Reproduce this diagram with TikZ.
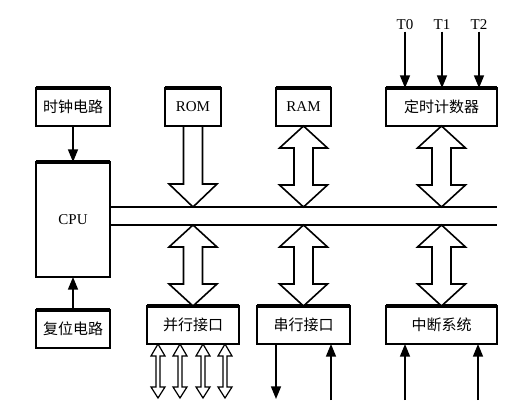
\documentclass[tikz,border=0pt]{standalone}
\usepackage{fontspec}
\setmainfont{Liberation Serif}
\newfontfamily\cjk{Noto Sans CJK SC}
\usetikzlibrary{arrows.meta,calc}
\begin{document}
\begin{tikzpicture}[x=0.75pt,y=-0.75pt,
  font=\fontsize{11.25}{13}\selectfont,
  box/.style={draw,line width=1.2pt,inner sep=0pt,outer sep=0pt,minimum height=28.5pt},
  topedge/.style={line width=2.4pt},
  arr/.style={line width=1.2pt,-{Triangle[width=7.5pt,length=9.5pt]}},
  hollow/.style={draw,fill=white,line width=1.2pt,line join=miter},
  hollowsm/.style={draw,fill=white,line width=0.9pt,line join=miter},
  busline/.style={line width=1.7pt},
  tlabel/.style={inner sep=1pt}]
\useasboundingbox (0,0) rectangle (528,414);
% boxes
\node[box,minimum width=55.5pt] (clk) at (73,107) {\cjk 时钟电路};
\node[box,minimum width=42pt] (rom) at (193,107) {ROM};
\node[box,minimum width=41.25pt] (ram) at (303.5,107) {RAM};
\node[box,minimum width=83.25pt] (timer) at (441.5,107) {\cjk 定时计数器};
\node[box,minimum width=55.5pt,minimum height=86.25pt] (cpu) at (73,219.5) {CPU};
\node[box,minimum width=55.5pt] (reset) at (73,329) {\cjk 复位电路};
\node[box,minimum width=69pt] (par) at (193,325) {\cjk 并行接口};
\node[box,minimum width=69.75pt] (ser) at (303.5,325) {\cjk 串行接口};
\node[box,minimum width=83.25pt] (int) at (441.5,325) {\cjk 中断系统};
\foreach \n in {clk,rom,ram,timer,cpu,reset,par,ser,int}
  \draw[topedge] (\n.north west) -- (\n.north east);
% bus
\coordinate (b1e) at (497,207);
\coordinate (b2e) at (497,225);
\draw[busline] (cpu.east |- b1e) -- (b1e);
\draw[busline,line width=2pt] (cpu.east |- b2e) -- (b2e);
% clock / reset arrows
\draw[arr] (clk.south) -- (cpu.north);
\draw[arr] (reset.north) -- (cpu.south);
% T inputs
\node[tlabel] (t0) at (405,25) {T0};
\node[tlabel] (t1) at (442,25) {T1};
\node[tlabel] (t2) at (479,25) {T2};
\foreach \t in {t0,t1,t2}
  \draw[arr] (\t.south) -- (\t.south |- timer.north);
% hollow arrows
\newcommand\dblarrow[2]{%
  \path[hollow] (#1) -- ++(24,22) -- ++(-14.5,0) -- ($(#2)+(9.5,-22)$) -- ++(14.5,0)
    -- (#2) -- ++(-24,-22) -- ++(14.5,0) -- ($(#1)+(-9.5,22)$) -- ++(-14.5,0) -- cycle;}
\newcommand\smalldbl[2]{%
  \path[hollowsm] (#1) -- ++(7,12) -- ++(-5,0) -- ($(#2)+(2,-11)$) -- ++(5,0)
    -- (#2) -- ++(-7,-11) -- ++(5,0) -- ($(#1)+(-2,12)$) -- ++(-5,0) -- cycle;}
% ROM: one-way down
\path[hollow] ($(rom.south)+(-9.5,0)$) -- ($(rom.south |- b1e)+(-9.5,-23)$) -- ++(-14.5,0)
  -- (rom.south |- b1e) -- ++(24,-23) -- ++(-14.5,0) -- ($(rom.south)+(9.5,0)$) -- cycle;
\dblarrow{ram.south}{ram.south |- b1e}
\dblarrow{timer.south}{timer.south |- b1e}
\dblarrow{par.north |- b2e}{par.north}
\dblarrow{ser.north |- b2e}{ser.north}
\dblarrow{int.north |- b2e}{int.north}
% parallel port lines
\coordinate (p1) at (158,398);
\coordinate (p2) at (180,398);
\coordinate (p3) at (203,398);
\coordinate (p4) at (225,398);
\foreach \p in {p1,p2,p3,p4}
  \smalldbl{par.south -| \p}{\p}
% serial lines
\coordinate (s1) at (276,399);
\coordinate (s2) at (331,400);
\draw[arr] (ser.south -| s1) -- (s1);
\draw[arr] (s2) -- (s2 |- ser.south);
% interrupt inputs
\coordinate (i1) at (405,400);
\coordinate (i2) at (478,400);
\draw[arr] (i1) -- (i1 |- int.south);
\draw[arr] (i2) -- (i2 |- int.south);
\end{tikzpicture}
\end{document}
